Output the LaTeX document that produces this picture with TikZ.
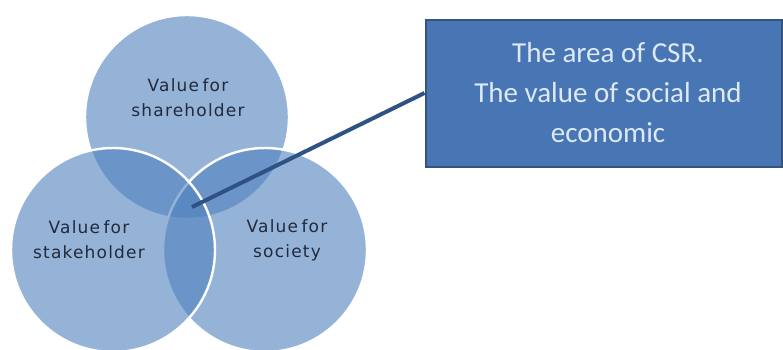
\documentclass[tikz,border=0pt]{standalone}
\usepackage{fontspec}
\setmainfont{Carlito}
\newfontfamily\labelfont[LetterSpace=7]{DejaVu Sans}
\newcommand{\vf}{Value\hspace{0.2em}for}
\begin{document}
\begin{tikzpicture}[x=1pt,y=-1pt,
  vennbase/.style={circle, minimum size=204pt, inner sep=0pt,
    fill=vennblue, fill opacity=0.6, draw=white, line width=2.4pt},
  venntext/.style={align=center, text=labeltext, font=\labelfont\fontsize{17}{25}\selectfont},
  csrbox/.style={draw=boxedge, line width=2pt, fill=boxfill, inner sep=0pt,
    minimum width=356pt, minimum height=147pt},
  csrtext/.style={align=center, text=boxtext, font=\fontsize{29}{40}\selectfont},
  pointer/.style={draw=linkblue, line width=4pt}]
\definecolor{vennblue}{RGB}{79,129,189}
\definecolor{labeltext}{RGB}{34,42,60}
\definecolor{boxfill}{RGB}{72,118,180}
\definecolor{boxedge}{RGB}{52,84,128}
\definecolor{boxtext}{RGB}{222,233,245}
\definecolor{linkblue}{RGB}{46,82,132}
\useasboundingbox (0,0) rectangle (783,349);
\clip (0,0) rectangle (783,349);
% three overlapping value circles
\node[vennbase] (share) at (187,117) {};
\node[vennbase] (society) at (265,250) {};
\node[vennbase] (stake) at (113,250) {};
% circle captions
\node[venntext] (tshare) at (188,98) {\vf\\shareholder};
\node[venntext] (tstake) at (89,240) {\vf\\stakeholder};
\node[venntext] (tsoc) at (287,240) {\vf\\society};
% call-out box
\node[csrbox] (box) at (603.5,93) {};
\node[csrtext] (boxlabel) at (608,93) {The area of CSR.\\The value of social and\\economic};
% pointer from the common area to the box
\coordinate (core) at (192,207);
\draw[pointer] (core) -- (box.west);
\end{tikzpicture}
\end{document}
